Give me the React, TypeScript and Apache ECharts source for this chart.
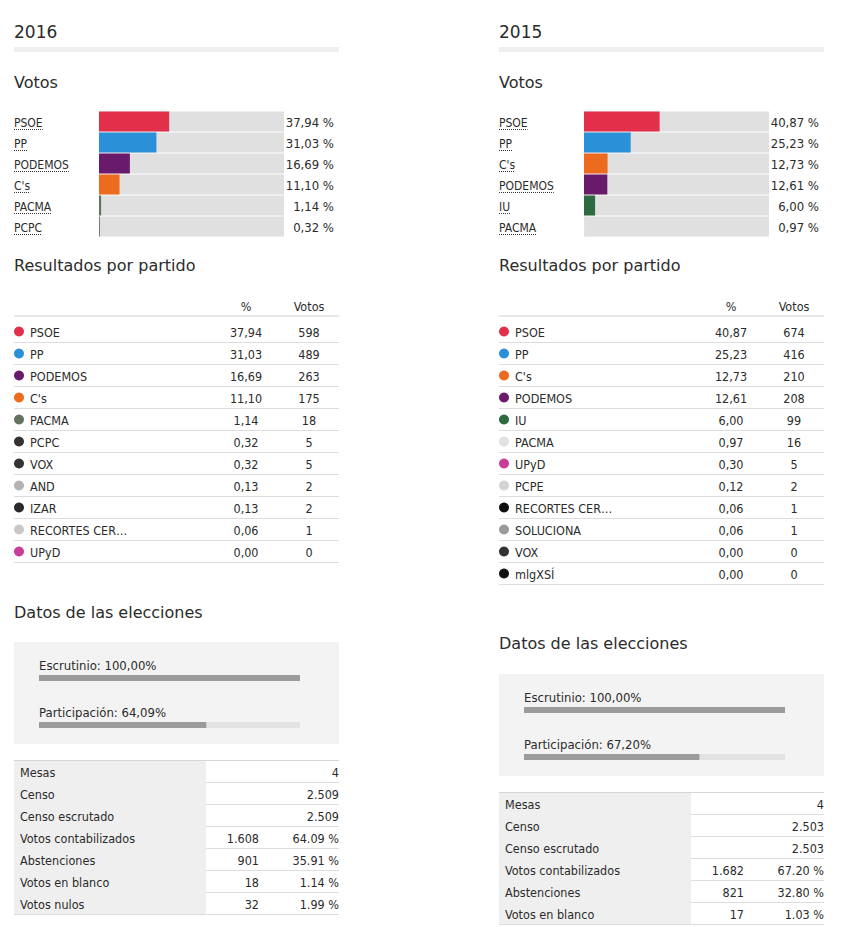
import React, { useEffect, useRef } from 'react';
import * as echarts from 'echarts';

// ---------- DATA ----------
const YEARS = ['2016', '2015'];

const VOTOS_2016_PARTIES = ['PSOE', 'PP', 'PODEMOS', "C's", 'PACMA', 'PCPC'];
const VOTOS_2016_PCT = [37.94, 31.03, 16.69, 11.1, 1.14, 0.32];
const VOTOS_2015_PARTIES = ['PSOE', 'PP', "C's", 'PODEMOS', 'IU', 'PACMA'];
const VOTOS_2015_PCT = [40.87, 25.23, 12.73, 12.61, 6.0, 0.97];

const RES_2016_PARTIES = ['PSOE', 'PP', 'PODEMOS', "C's", 'PACMA', 'PCPC', 'VOX', 'AND', 'IZAR', 'RECORTES CER…', 'UPyD'];
const RES_2016_PCT = [37.94, 31.03, 16.69, 11.1, 1.14, 0.32, 0.32, 0.13, 0.13, 0.06, 0.0];
const RES_2016_VOTES = [598, 489, 263, 175, 18, 5, 5, 2, 2, 1, 0];

const RES_2015_PARTIES = ['PSOE', 'PP', "C's", 'PODEMOS', 'IU', 'PACMA', 'UPyD', 'PCPE', 'RECORTES CER…', 'SOLUCIONA', 'VOX', 'mlgXSÍ'];
const RES_2015_PCT = [40.87, 25.23, 12.73, 12.61, 6.0, 0.97, 0.3, 0.12, 0.06, 0.06, 0.0, 0.0];
const RES_2015_VOTES = [674, 416, 210, 208, 99, 16, 5, 2, 1, 1, 0, 0];

const TABLE_HEADERS = ['%', 'Votos'];

const PROGRESS_LABELS = ['Escrutinio', 'Participación'];
const PROGRESS_2016 = [100, 64.09];
const PROGRESS_2015 = [100, 67.2];

const DATOS_2016_LABELS = ['Mesas', 'Censo', 'Censo escrutado', 'Votos contabilizados', 'Abstenciones', 'Votos en blanco', 'Votos nulos'];
const DATOS_2016_VALUES = [4, 2509, 2509, 1608, 901, 18, 32];
const DATOS_2016_PCT: (number | null)[] = [null, null, null, 64.09, 35.91, 1.14, 1.99];

const DATOS_2015_LABELS = ['Mesas', 'Censo', 'Censo escrutado', 'Votos contabilizados', 'Abstenciones', 'Votos en blanco'];
const DATOS_2015_VALUES = [4, 2503, 2503, 1682, 821, 17];
const DATOS_2015_PCT: (number | null)[] = [null, null, null, 67.2, 32.8, 1.03];

const SECTION_TITLES = ['Votos', 'Resultados por partido', 'Datos de las elecciones'];

// ---------- STYLES ----------
const COLORS_2016: Record<string, string> = {
  PSOE: '#e2304a', PP: '#2a90d8', PODEMOS: '#6a1a6a', "C's": '#ec6b1e', PACMA: '#63735f',
  PCPC: '#333333', VOX: '#333333', AND: '#b4b4b4', IZAR: '#2a2a2a', 'RECORTES CER…': '#c8c8c8', UPyD: '#c93c97',
};
const COLORS_2015: Record<string, string> = {
  PSOE: '#e2304a', PP: '#2a90d8', PODEMOS: '#6a1a6a', "C's": '#ec6b1e', IU: '#2e6a40', PACMA: '#e2e2e2',
  UPyD: '#c93c97', PCPE: '#d4d4d4', 'RECORTES CER…': '#0d0d0d', SOLUCIONA: '#9a9a9a', VOX: '#333333', 'mlgXSÍ': '#111111',
};

const TXT = '#2b2b2b';
const HEAD_FONT = '16px "DejaVu Sans", sans-serif';
const TITLE_FONT = '17px "DejaVu Sans", sans-serif';
const COND = '"DejaVu Sans Condensed", "Roboto", sans-serif';
const NAME_FONT = `12px ${COND}`;
const VAL_FONT = `13px ${COND}`;
const TABLE_FONT = `12.5px ${COND}`;
const DY = 1; // baseline nudge for condensed text

const fmtComma = (v: number) => v.toFixed(2).replace('.', ',');
const fmtDot = (v: number) => v.toFixed(2);
const fmtThousands = (n: number) => String(n).replace(/\B(?=(\d{3})+(?!\d))/g, '.');

let measureCtx: CanvasRenderingContext2D | null = null;
function measure(text: string, font: string) {
  if (!measureCtx) measureCtx = document.createElement('canvas').getContext('2d');
  if (!measureCtx) return text.length * 7;
  measureCtx.font = font;
  return measureCtx.measureText(text).width;
}

function txt(x: number, y: number, text: string, font: string, align: string, fill = TXT) {
  return {
    type: 'text', x, y: y + DY,
    style: { text, font, fill, align, textAlign: align, verticalAlign: 'middle', textVerticalAlign: 'middle' },
  };
}

function hline(x1: number, x2: number, y: number, stroke: string, lineWidth = 1, dash?: number[]) {
  return {
    type: 'line',
    shape: { x1, y1: y, x2, y2: y },
    style: { stroke, lineWidth, lineDash: dash },
  };
}

function headText(x: number, y: number, text: string, font: string) {
  return {
    type: 'text', x, y,
    style: { text, font, fill: TXT, align: 'left', textAlign: 'left', verticalAlign: 'middle', textVerticalAlign: 'middle' },
  };
}

export default function App() {
  const ref = useRef<HTMLDivElement>(null);

  useEffect(() => {
    if (!ref.current) return;
    const chart = echarts.init(ref.current, undefined, { renderer: 'svg' });

    const COLS = [14, 499];
    const datosTitleY = [612, 643];
    const boxTop = [642, 674];

    const graphics: any[] = [];
    YEARS.forEach((year, c) => {
      const x0 = COLS[c];
      graphics.push(headText(x0, 32, year, TITLE_FONT));
      graphics.push({ type: 'rect', shape: { x: x0, y: 47, width: 325, height: 5 }, style: { fill: '#efefef' } });
      graphics.push(headText(x0, 82, SECTION_TITLES[0], HEAD_FONT));
      graphics.push(headText(x0, 265, SECTION_TITLES[1], HEAD_FONT));
      graphics.push(headText(x0, datosTitleY[c], SECTION_TITLES[2], HEAD_FONT));
      graphics.push({ type: 'rect', z: -1, shape: { x: x0, y: boxTop[c], width: 325, height: 102 }, style: { fill: '#f3f3f3' } });
    });

    const votosLabels = (parties: string[], pct: number[]) => (params: any, api: any) => {
      const i = api.value(1);
      const cs = params.coordSys;
      const cy = api.coord([0, i])[1];
      const name = parties[i];
      const nx = cs.x - 85;
      const w = measure(name, NAME_FONT);
      return {
        type: 'group',
        children: [
          txt(nx, cy, name, NAME_FONT, 'left'),
          hline(nx, nx + w, Math.round(cy + 7) + 0.5, '#333', 1, [1, 1]),
          txt(cs.x + cs.width + 50, cy, fmtComma(pct[i]) + ' %', VAL_FONT, 'right'),
        ],
      };
    };

    const resultsRows = (parties: string[], pct: number[], votes: number[], colors: Record<string, string>) => (params: any, api: any) => {
      const i = api.value(1);
      const cs = params.coordSys;
      const cy = api.coord([0, i])[1];
      const children: any[] = [
        { type: 'circle', shape: { cx: cs.x + 5, cy: cy + 0.5, r: 5 }, style: { fill: colors[parties[i]] || '#999' } },
        txt(cs.x + 16, cy, parties[i], TABLE_FONT, 'left'),
        txt(cs.x + 232, cy, fmtComma(pct[i]), TABLE_FONT, 'center'),
        txt(cs.x + 295, cy, String(votes[i]), TABLE_FONT, 'center'),
        hline(cs.x, cs.x + cs.width, Math.round(cy + 11) + 0.5, '#dddddd'),
      ];
      if (i === 0) {
        children.push(txt(cs.x + 232, cy - 26, TABLE_HEADERS[0], TABLE_FONT, 'center'));
        children.push(txt(cs.x + 295, cy - 26, TABLE_HEADERS[1], TABLE_FONT, 'center'));
        children.push({ type: 'rect', shape: { x: cs.x, y: Math.round(cy - 16), width: cs.width, height: 2 }, style: { fill: '#e8e8e8' } });
      }
      return { type: 'group', children };
    };

    const datosRows = (labels: string[], values: number[], pcts: (number | null)[]) => (params: any, api: any) => {
      const i = api.value(1);
      const cs = params.coordSys;
      const cy = api.coord([0, i])[1];
      const top = Math.round(cy - 11);
      const p = pcts[i];
      const children: any[] = [
        { type: 'rect', shape: { x: cs.x, y: top, width: 192, height: 22 }, style: { fill: '#efefef' } },
        txt(cs.x + 6, cy, labels[i], TABLE_FONT, 'left'),
        hline(cs.x, cs.x + cs.width, top + 22.5, '#dddddd'),
      ];
      if (p === null) {
        children.push(txt(cs.x + cs.width, cy, fmtThousands(values[i]), TABLE_FONT, 'right'));
      } else {
        children.push(txt(cs.x + 245, cy, fmtThousands(values[i]), TABLE_FONT, 'right'));
        children.push(txt(cs.x + cs.width, cy, fmtDot(p) + ' %', TABLE_FONT, 'right'));
      }
      if (i === 0) children.push(hline(cs.x, cs.x + cs.width, top + 0.5, '#d6d6d6'));
      return { type: 'group', children };
    };

    const grids = [
      { left: 99, top: 111, width: 185, height: 126 },
      { left: 584, top: 111, width: 185, height: 126 },
      { left: 14, top: 320, width: 325, height: 22 * RES_2016_PARTIES.length },
      { left: 499, top: 320, width: 325, height: 22 * RES_2015_PARTIES.length },
      { left: 39, top: 654.5, width: 261, height: 94 },
      { left: 524, top: 686.5, width: 261, height: 94 },
      { left: 14, top: 760, width: 325, height: 22 * DATOS_2016_LABELS.length },
      { left: 499, top: 792, width: 325, height: 22 * DATOS_2015_LABELS.length },
    ];
    const cats = [
      VOTOS_2016_PARTIES, VOTOS_2015_PARTIES, RES_2016_PARTIES, RES_2015_PARTIES,
      PROGRESS_LABELS, PROGRESS_LABELS, DATOS_2016_LABELS, DATOS_2015_LABELS,
    ];
    const maxes = [100, 100, 1, 1, 100, 100, 1, 1];

    const barSeries = (idx: number, parties: string[], pct: number[], colors: Record<string, string>) => ({
      type: 'bar', xAxisIndex: idx, yAxisIndex: idx, barWidth: 20,
      showBackground: true, backgroundStyle: { color: '#e0e0e0' },
      data: pct.map((v, i) => ({ value: v, itemStyle: { color: colors[parties[i]] } })),
    });

    const progressSeries = (idx: number, vals: number[]) => ({
      type: 'bar', xAxisIndex: idx, yAxisIndex: idx, barWidth: 6,
      showBackground: true, backgroundStyle: { color: '#e3e3e3' },
      itemStyle: { color: '#9b9b9b' },
      label: {
        show: true, position: [0, -10], align: 'left', verticalAlign: 'middle',
        fontSize: 13, fontFamily: COND, color: TXT,
        formatter: (p: any) => `${PROGRESS_LABELS[p.dataIndex]}: ${fmtComma(p.value)}%`,
      },
      data: vals,
    });

    const customSeries = (idx: number, n: number, render: any) => ({
      type: 'custom', xAxisIndex: idx, yAxisIndex: idx, clip: false,
      renderItem: render,
      data: Array.from({ length: n }, (_, i) => [0, i]),
    });

    chart.setOption({
      animation: false,
      backgroundColor: '#ffffff',
      grid: grids.map((g) => ({ ...g, containLabel: false, show: false })),
      xAxis: grids.map((_, i) => ({ gridIndex: i, type: 'value', min: 0, max: maxes[i], show: false })),
      yAxis: grids.map((_, i) => ({ gridIndex: i, type: 'category', inverse: true, data: cats[i], show: false })),
      graphic: { elements: graphics },
      series: [
        barSeries(0, VOTOS_2016_PARTIES, VOTOS_2016_PCT, COLORS_2016),
        customSeries(0, VOTOS_2016_PARTIES.length, votosLabels(VOTOS_2016_PARTIES, VOTOS_2016_PCT)),
        barSeries(1, VOTOS_2015_PARTIES, VOTOS_2015_PCT, COLORS_2015),
        customSeries(1, VOTOS_2015_PARTIES.length, votosLabels(VOTOS_2015_PARTIES, VOTOS_2015_PCT)),
        customSeries(2, RES_2016_PARTIES.length, resultsRows(RES_2016_PARTIES, RES_2016_PCT, RES_2016_VOTES, COLORS_2016)),
        customSeries(3, RES_2015_PARTIES.length, resultsRows(RES_2015_PARTIES, RES_2015_PCT, RES_2015_VOTES, COLORS_2015)),
        progressSeries(4, PROGRESS_2016),
        progressSeries(5, PROGRESS_2015),
        customSeries(6, DATOS_2016_LABELS.length, datosRows(DATOS_2016_LABELS, DATOS_2016_VALUES, DATOS_2016_PCT)),
        customSeries(7, DATOS_2015_LABELS.length, datosRows(DATOS_2015_LABELS, DATOS_2015_VALUES, DATOS_2015_PCT)),
      ],
    });

    return () => chart.dispose();
  }, []);

  return (
    <div
      ref={ref}
      style={{ position: 'absolute', left: 0, top: 0, width: 841, height: 927, background: '#fff' }}
    />
  );
}
